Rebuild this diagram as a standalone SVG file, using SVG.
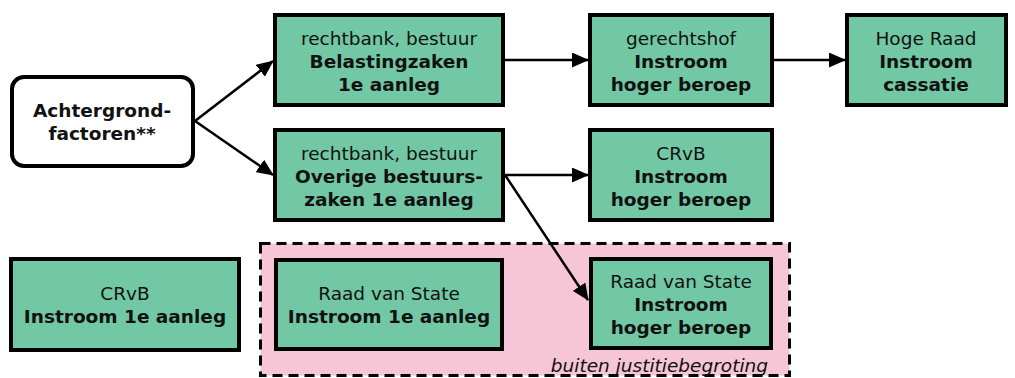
<svg xmlns="http://www.w3.org/2000/svg" width="1015" height="378" viewBox="0 0 1015 378">
  <defs>
    <marker id="arr" markerWidth="17" markerHeight="15" refX="16" refY="7.5" orient="auto" markerUnits="userSpaceOnUse">
      <path d="M0,0 L17,7.5 L0,15 Z" fill="#000"/>
    </marker>
    <style>
      .box { fill: #72C8A5; stroke: #000; stroke-width: 4; }
      .rbox { fill: #fff; stroke: #000; stroke-width: 4; }
      .t { font-family: "DejaVu Sans", Verdana, sans-serif; font-size: 18.5px; fill: #111; text-anchor: middle; }
      .b { font-weight: bold; }
      .conn { stroke: #000; stroke-width: 2.5; fill: none; marker-end: url(#arr); }
    </style>
  </defs>
  <rect width="1015" height="378" fill="#fff"/>

  <g id="region-buiten">
    <rect x="260.5" y="243.5" width="529" height="132" fill="#F6C6D6" stroke="#000" stroke-width="3" stroke-dasharray="10,6"/>
    <text x="768" y="372" class="t" style="text-anchor:end;font-style:italic">buiten justitiebegroting</text>
  </g>

  <g id="connectors">
    <line class="conn" x1="195" y1="121" x2="273" y2="61"/>
    <line class="conn" x1="195" y1="121" x2="273" y2="175"/>
    <line class="conn" x1="505" y1="60" x2="588" y2="60"/>
    <line class="conn" x1="774" y1="60" x2="845" y2="60"/>
    <line class="conn" x1="505" y1="175" x2="588" y2="175"/>
    <line class="conn" x1="505" y1="175" x2="588" y2="300"/>
  </g>

  <g id="achtergrond">
    <rect class="rbox" x="12" y="77" width="181" height="89" rx="12"/>
    <text class="t b" x="102" y="117">Achtergrond-</text>
    <text class="t b" x="102" y="140">factoren**</text>
  </g>

  <g id="rb-belasting">
    <rect class="box" x="275" y="15" width="228" height="90"/>
    <text class="t" x="389" y="45">rechtbank, bestuur</text>
    <text class="t b" x="389" y="68">Belastingzaken</text>
    <text class="t b" x="389" y="91">1e aanleg</text>
  </g>

  <g id="gerechtshof">
    <rect class="box" x="590" y="15" width="182" height="90"/>
    <text class="t" x="681" y="45">gerechtshof</text>
    <text class="t b" x="681" y="68">Instroom</text>
    <text class="t b" x="681" y="91">hoger beroep</text>
  </g>

  <g id="hoge-raad">
    <rect class="box" x="847" y="15" width="159" height="90"/>
    <text class="t" x="926" y="45">Hoge Raad</text>
    <text class="t b" x="926" y="68">Instroom</text>
    <text class="t b" x="926" y="91">cassatie</text>
  </g>

  <g id="rb-overige">
    <rect class="box" x="275" y="130" width="228" height="90"/>
    <text class="t" x="389" y="160">rechtbank, bestuur</text>
    <text class="t b" x="389" y="183">Overige bestuurs-</text>
    <text class="t b" x="389" y="206">zaken 1e aanleg</text>
  </g>

  <g id="crvb-hb">
    <rect class="box" x="590" y="130" width="182" height="90"/>
    <text class="t" x="681" y="160">CRvB</text>
    <text class="t b" x="681" y="183">Instroom</text>
    <text class="t b" x="681" y="206">hoger beroep</text>
  </g>

  <g id="crvb-1e">
    <rect class="box" x="11" y="259" width="228" height="91"/>
    <text class="t" x="125" y="300">CRvB</text>
    <text class="t b" x="125" y="323">Instroom 1e aanleg</text>
  </g>

  <g id="rvs-1e">
    <rect class="box" x="276" y="260" width="226" height="89"/>
    <text class="t" x="389" y="300">Raad van State</text>
    <text class="t b" x="389" y="323">Instroom 1e aanleg</text>
  </g>

  <g id="rvs-hb">
    <rect class="box" x="591" y="259" width="180" height="89"/>
    <text class="t" x="681" y="288">Raad van State</text>
    <text class="t b" x="681" y="311">Instroom</text>
    <text class="t b" x="681" y="334">hoger beroep</text>
  </g>
</svg>
